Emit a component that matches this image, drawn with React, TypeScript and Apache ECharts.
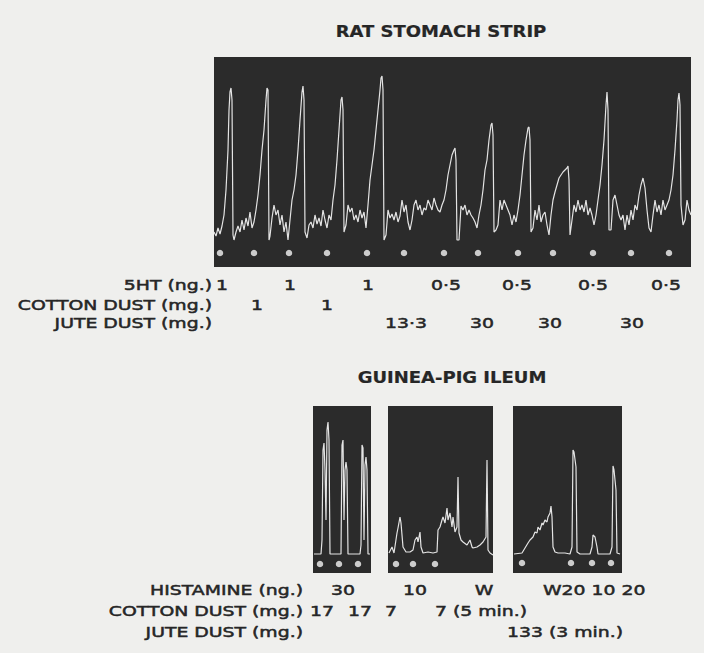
import { useEffect, useRef } from "react";
import * as echarts from "echarts";

// ---------- DATA ----------
// Rat stomach strip trace: [time, contraction height]
const ratTrace: number[][] = [
  [0,35],[2,31],[4,39],[6,33],[8,41],[10,52],[12,77],[14,117],[15,157],[16,175],[17,179],[18,167],[19,32],[20,27],
  [22,35],[24,41],[26,35],[28,47],[30,37],[32,49],[34,41],[36,55],[38,39],[40,45],[42,57],[44,72],[46,92],[48,117],
  [50,137],[52,167],[53,179],[54,177],[55,27],[56,31],[58,49],[60,62],[62,52],[64,57],[66,42],[68,52],[70,35],[72,45],
  [74,27],[76,47],[78,67],[80,77],[82,92],[84,117],[86,147],[88,175],[89,181],[90,167],[91,35],[93,29],[95,42],[97,45],
  [99,39],[101,52],[103,43],[105,49],[107,41],[109,57],[111,47],[113,39],[115,52],[117,47],[119,67],[121,82],[123,107],
  [125,137],[127,167],[128,170],[129,157],[130,35],[132,42],[134,62],[136,55],[138,59],[140,47],[142,52],[144,45],
  [146,57],[148,49],[150,55],[152,39],[154,62],[156,87],[158,102],[160,117],[162,137],[164,157],[166,177],[167,189],
  [168,191],[169,177],[170,27],[172,32],[174,57],[176,49],[178,53],[180,47],[182,55],[184,45],[186,51],[188,67],
  [190,55],[192,62],[194,45],[196,37],[198,47],[200,62],[202,67],[204,57],[206,62],[208,52],[210,59],[212,57],
  [214,67],[216,62],[218,57],[220,69],[222,62],[224,57],[226,55],[228,62],[230,67],[232,77],[234,92],[236,102],
  [238,112],[240,117],[241,119],[242,107],[243,27],[245,27],[247,61],[249,57],[251,62],[253,52],[255,57],[257,52],
  [259,49],[261,45],[263,39],[265,52],[267,62],[269,77],[271,97],[273,107],[275,127],[277,142],[278,144],[279,132],
  [280,35],[282,37],[284,42],[286,67],[288,57],[290,67],[292,62],[294,57],[296,52],[298,42],[300,52],[302,45],
  [304,57],[306,72],[308,92],[310,112],[312,127],[314,139],[315,140],[316,127],[317,35],[319,39],[321,57],[323,47],
  [325,62],[327,45],[329,52],[331,55],[333,42],[335,32],[337,52],[339,67],[341,75],[343,82],[345,89],[347,92],
  [349,95],[351,97],[353,99],[354,101],[355,87],[356,32],[358,47],[360,62],[362,55],[364,67],[366,57],[368,62],
  [370,55],[372,67],[374,52],[376,59],[378,52],[380,42],[382,52],[384,67],[386,82],[388,102],[390,127],[392,162],
  [393,175],[394,157],[395,37],[397,37],[399,67],[401,72],[403,62],[405,52],[407,47],[409,52],[411,37],[413,52],
  [415,42],[417,57],[419,47],[421,62],[423,57],[425,72],[427,82],[429,89],[431,79],[433,57],[435,39],[437,35],
  [439,52],[441,67],[443,55],[445,62],[447,52],[449,67],[451,57],[453,62],[455,67],[457,77],[459,92],[461,117],
  [463,147],[464,167],[465,174],[466,162],[467,62],[469,42],[471,47],[473,67],[475,57],[477,52]
];
// Time marks (dose applications) on the rat trace
const ratMarks = [6, 40, 75, 113, 153, 190, 230, 264, 304, 339, 379, 417, 455];

// Guinea-pig ileum, panel A
const ileumA: number[][] = [
  [1,19],[8,19],[9,33],[10,123],[11,130],[12,103],[13,53],[14,143],[15,151],[16,133],[17,19],[28,19],[29,128],
  [30,133],[31,53],[32,103],[33,111],[34,103],[35,19],[47,19],[48,28],[49,128],[50,125],[51,33],[52,108],[53,116],
  [54,103],[55,19],[57,19]
];
const ileumAMarks = [7, 26, 45];
// panel B
const ileumB: number[][] = [
  [1,20],[4,26],[6,20],[9,40],[10,45],[12,56],[13,50],[15,26],[18,21],[22,21],[25,23],[27,33],[29,36],[30,31],
  [32,41],[33,26],[35,20],[40,21],[45,20],[49,21],[50,43],[52,46],[54,53],[55,56],[57,50],[59,65],[60,53],[62,60],
  [64,46],[65,56],[67,41],[69,46],[70,96],[71,40],[73,33],[75,31],[79,28],[82,33],[84,26],[85,25],[89,26],[92,28],
  [95,31],[98,36],[99,113],[100,23],[102,20],[105,18]
];
const ileumBMarks = [8, 25, 47];
// panel C
const ileumC: number[][] = [
  [1,19],[9,20],[12,25],[15,30],[17,33],[20,36],[22,41],[24,40],[25,46],[27,43],[29,50],[30,48],[32,53],[34,51],
  [35,56],[37,60],[38,67],[39,56],[40,26],[42,21],[45,20],[52,20],[57,19],[59,26],[60,123],[61,121],[63,106],
  [64,21],[67,19],[77,19],[79,26],[80,38],[82,36],[84,26],[85,19],[97,19],[99,26],[100,107],[101,103],[103,83],
  [104,20],[107,19]
];
const ileumCMarks = [9, 58, 79, 98];

// Texts
const ratTitle = "RAT STOMACH STRIP";
const ileumTitle = "GUINEA-PIG ILEUM";
const ratRowNames = ["5HT (ng.)", "COTTON DUST (mg.)", "JUTE DUST (mg.)"];
const rat5HT = ["1", "1", "1", "0·5", "0·5", "0·5", "0·5"];
const ratCotton = ["1", "1"];
const ratJute = ["13·3", "30", "30", "30"];
const ileumRowNames = ["HISTAMINE (ng.)", "COTTON DUST (mg.)", "JUTE DUST (mg.)"];
const ileumHistamine = ["30", "10", "W", "W20 10 20"];
const ileumCotton = ["17", "17", "7", "7 (5 min.)"];
const ileumJute = ["133 (3 min.)"];

// ---------- LAYOUT ----------
const PAGE_BG = "#efefed";
const PANEL_BG = "#2b2b2b";
const TRACE = "#e4e4e4";
const INK = "#262626";
const FONT = "DejaVu Sans";

const grids = [
  { left: 214, top: 57, width: 477, height: 210, xMax: 477, yMax: 210 },
  { left: 313, top: 406, width: 58, height: 167, xMax: 58, yMax: 167 },
  { left: 388, top: 406, width: 105, height: 167, xMax: 105, yMax: 167 },
  { left: 513, top: 406, width: 109, height: 167, xMax: 109, yMax: 167 },
];
const markLevels = [14, 9, 9, 10];

const ratRowY = [285, 305, 323];
const rat5HTX = [222, 290, 368, 446, 517, 593, 666];
const ratCottonX = [257, 327];
const ratJuteX = [406, 482, 550, 632];
const ileumRowY = [590, 611, 632];
const ileumHistX: [number, string][] = [[343, "center"], [415, "center"], [484, "center"], [543, "left"]];
const ileumCottonX: [number, string][] = [[322, "center"], [360, "center"], [391, "center"], [435, "left"]];
const ileumJuteX: [number, string][] = [[507, "left"]];

function txt(text: string, x: number, y: number, align: string, size = 14.5, sx = 1.3, weight = "normal") {
  return {
    type: "text",
    x,
    y,
    scaleX: sx,
    silent: true,
    style: {
      text,
      x: 0,
      y: 0,
      align,
      verticalAlign: "middle",
      fill: INK,
      stroke: INK,
      lineWidth: weight === "bold" ? 0.2 : 0.5,
      font: `${weight} ${size}px "${FONT}"`,
    },
  };
}

export default function App() {
  const ref = useRef<HTMLDivElement>(null);
  useEffect(() => {
    if (!ref.current) return;
    const chart = echarts.init(ref.current, undefined, { renderer: "svg" });
    const traces = [ratTrace, ileumA, ileumB, ileumC];
    const marks = [ratMarks, ileumAMarks, ileumBMarks, ileumCMarks];
    const series: any[] = [];
    traces.forEach((d, i) => {
      series.push({
        type: "line",
        xAxisIndex: i,
        yAxisIndex: i,
        data: d,
        showSymbol: false,
        symbol: "none",
        lineStyle: { color: TRACE, width: 1.2 },
        silent: true,
      });
      series.push({
        type: "scatter",
        xAxisIndex: i,
        yAxisIndex: i,
        data: marks[i].map((m) => [m, markLevels[i]]),
        symbolSize: 6.5,
        itemStyle: { color: "#f5f5f5" },
        silent: true,
      });
    });

    const graphic: any[] = [];
    graphic.push(txt(ratTitle, 441, 32, "center", 15, 1.2, "bold"));
    graphic.push(txt(ileumTitle, 452, 378, "center", 15, 1.2, "bold"));
    ratRowNames.forEach((n, i) => graphic.push(txt(n, 212, ratRowY[i], "right")));
    rat5HT.forEach((v, i) => graphic.push(txt(v, rat5HTX[i], ratRowY[0], "center")));
    ratCotton.forEach((v, i) => graphic.push(txt(v, ratCottonX[i], ratRowY[1], "center")));
    ratJute.forEach((v, i) => graphic.push(txt(v, ratJuteX[i], ratRowY[2], "center")));
    ileumRowNames.forEach((n, i) => graphic.push(txt(n, 303, ileumRowY[i], "right")));
    ileumHistamine.forEach((v, i) => graphic.push(txt(v, ileumHistX[i][0], ileumRowY[0], ileumHistX[i][1])));
    ileumCotton.forEach((v, i) => graphic.push(txt(v, ileumCottonX[i][0], ileumRowY[1], ileumCottonX[i][1])));
    ileumJute.forEach((v, i) => graphic.push(txt(v, ileumJuteX[i][0], ileumRowY[2], ileumJuteX[i][1])));

    chart.setOption({
      animation: false,
      backgroundColor: PAGE_BG,
      grid: grids.map((g) => ({
        left: g.left,
        top: g.top,
        width: g.width,
        height: g.height,
        show: true,
        backgroundColor: PANEL_BG,
        borderWidth: 0,
        containLabel: false,
      })),
      xAxis: grids.map((g, i) => ({ type: "value", gridIndex: i, min: 0, max: g.xMax, show: false })),
      yAxis: grids.map((g, i) => ({ type: "value", gridIndex: i, min: 0, max: g.yMax, show: false })),
      series,
      graphic,
    });
    return () => chart.dispose();
  }, []);
  return (
    <div
      ref={ref}
      style={{ position: "fixed", left: 0, top: 0, width: 704, height: 653, background: PAGE_BG }}
    />
  );
}
